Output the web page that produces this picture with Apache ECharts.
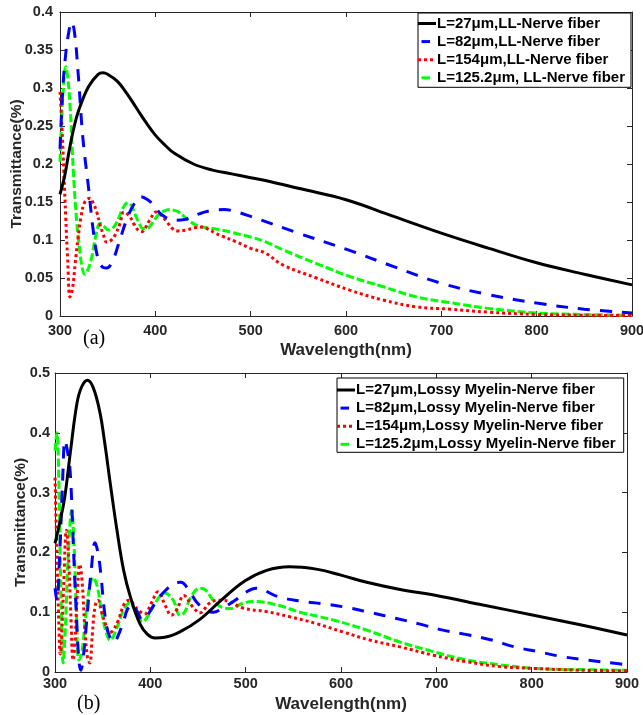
<!DOCTYPE html>
<html><head><meta charset="utf-8">
<script src="https://cdn.jsdelivr.net/npm/echarts/dist/echarts.min.js"></script>
<style>html,body{margin:0;padding:0;background:#fff}#c{width:643px;height:715px}</style>
</head><body><div id="c"></div><script>
// ---------- Panel (a) data ----------
const aBlackX = [300,305,310,315,320,330,340,345,350,360,370,380,390,400,410,420,440,460,480,500,520,550,600,650,700,750,800,850,900];
const aBlackY = [0.16,0.185,0.22,0.25,0.272,0.302,0.318,0.32,0.318,0.309,0.293,0.274,0.255,0.238,0.225,0.214,0.2,0.192,0.187,0.182,0.177,0.168,0.153,0.131,0.109,0.089,0.07,0.055,0.041];
const aBlueX = [300,303,306,309,312,315,319,324,330,335,340,345,349,355,361,370,378,385,392,398,407,420,431,445,460,472,485,500,550,600,650,700,750,800,850,900];
const aBlueY = [0.22,0.3,0.345,0.372,0.387,0.375,0.32,0.234,0.168,0.111,0.075,0.064,0.063,0.072,0.093,0.127,0.148,0.157,0.153,0.146,0.133,0.126,0.127,0.134,0.139,0.14,0.137,0.131,0.109,0.088,0.065,0.043,0.028,0.017,0.009,0.004];
const aRedX = [300,302,304,306,308,310.5,313,316,319,322,326,331.5,335,338.5,342,345.5,349,353,358,363,367,373,378,382,386,390,394,401,406,412,418,424,432,441,449,456,463,470,484,500,515,534,569,604,639,674,709,750,800,850,900];
const aRedY = [0.295,0.25,0.19,0.13,0.075,0.025,0.035,0.07,0.103,0.13,0.15,0.155,0.148,0.137,0.12,0.107,0.097,0.099,0.107,0.122,0.137,0.131,0.12,0.113,0.111,0.117,0.126,0.137,0.133,0.124,0.115,0.112,0.113,0.116,0.117,0.114,0.109,0.105,0.098,0.089,0.083,0.067,0.05,0.034,0.021,0.012,0.009,0.005,0.002,0.001,0.0005];
const aGreenX = [300,303,306,308,310.5,314,317.5,320,323,326,329,333,338.5,342,346,351,354,358,362,366,371,375,379,383,387,391,396,403,409,415,420,424,430,435,442,449,460,470,480,490,500,515,534,569,604,639,674,709,750,800,850,900];
const aGreenY = [0.203,0.29,0.328,0.315,0.278,0.19,0.124,0.095,0.065,0.055,0.06,0.076,0.111,0.122,0.118,0.113,0.114,0.12,0.13,0.142,0.149,0.145,0.133,0.122,0.115,0.115,0.121,0.133,0.138,0.14,0.139,0.137,0.131,0.126,0.12,0.117,0.115,0.113,0.11,0.107,0.104,0.098,0.087,0.069,0.052,0.0385,0.025,0.0175,0.01,0.004,0.002,0.001];
const aNames = ['L=27μm,LL-Nerve fiber','L=82μm,LL-Nerve fiber','L=154μm,LL-Nerve fiber','L=125.2μm, LL-Nerve fiber'];

// ---------- Panel (b) data ----------
const bBlackX = [300,305,310,316,323,328,334,340,347,352,358,365,372,379,389,397,405,415,431,452,473,499,522,546,574,600,627,662,700,749,802,851,900];
const bBlackY = [0.215,0.25,0.29,0.366,0.449,0.477,0.488,0.476,0.435,0.385,0.315,0.237,0.17,0.126,0.081,0.063,0.057,0.058,0.067,0.088,0.118,0.152,0.17,0.176,0.172,0.162,0.15,0.138,0.128,0.112,0.095,0.079,0.062];
const bBlueX = [300,302,305,308,310.5,313,316,319,322,325,327,330,334,338,342,345,348,352,356,362,366,372,376,381,386,392,397,405,415,425,432,440,448,458,466,475,489,500,511,534,559,581,606,632,657,683,707,734,758,782,807,831,858,887,900];
const bBlueY = [0.14,0.12,0.2,0.32,0.387,0.37,0.333,0.22,0.11,0.02,0.003,0.03,0.1,0.17,0.216,0.2,0.165,0.1,0.065,0.05,0.06,0.085,0.105,0.113,0.102,0.087,0.095,0.115,0.135,0.148,0.15,0.138,0.118,0.104,0.1,0.106,0.12,0.133,0.14,0.126,0.118,0.114,0.108,0.099,0.09,0.08,0.07,0.062,0.0535,0.042,0.034,0.026,0.02,0.0145,0.012];
const bRedX = [300,302,304,305.5,307,309,312,314,316.5,319,321,323,326,328.5,331,334,336.5,339,342,345,349,353,357,360,366,373,378,383,387,394,401,408,416,422,428,435,445,452,462,472,483,497,522,546,574,602,630,662,697,732,767,802,850,900];
const bRedY = [0.325,0.2,0.08,0.03,0.06,0.14,0.237,0.2,0.1,0.02,0.05,0.12,0.18,0.15,0.08,0.025,0.015,0.06,0.11,0.12,0.1,0.08,0.066,0.068,0.085,0.115,0.12,0.112,0.104,0.097,0.115,0.134,0.11,0.095,0.105,0.128,0.108,0.099,0.115,0.12,0.118,0.107,0.101,0.0925,0.081,0.067,0.0535,0.042,0.028,0.017,0.009,0.006,0.003,0.002];
const bGreenX = [300,302,304,306,308.5,311,314,317.5,320,322.5,325,328,332,336,340,344,349,353,358,364,371,378,385,392,398,405,415,424,431,436,442,452,458,466,475,484,497,510,533,557,592,627,662,697,732,767,802,850,900];
const bGreenY = [0.37,0.4,0.32,0.15,0.015,0.08,0.2,0.27,0.21,0.1,0.02,0.03,0.09,0.14,0.158,0.145,0.1,0.07,0.053,0.07,0.1,0.115,0.1,0.084,0.095,0.115,0.132,0.12,0.095,0.1,0.124,0.14,0.137,0.12,0.108,0.106,0.115,0.118,0.112,0.1,0.087,0.07,0.05,0.034,0.02,0.012,0.006,0.004,0.003];
const bNames = ['L=27μm,Lossy Myelin-Nerve fiber','L=82μm,Lossy Myelin-Nerve fiber','L=154μm,Lossy Myelin-Nerve fiber','L=125.2μm,Lossy Myelin-Nerve fiber'];

const xTicks = {min:300, max:900, interval:100};
const yTicksA = {min:0, max:0.4, interval:0.05};
const yTicksB = {min:0, max:0.5, interval:0.1};

// ---------- styling ----------
const FONT = 'Liberation Sans, Arial, sans-serif';
const AX = '#262626';
const zip = (xs, ys) => xs.map((x, i) => [x, ys[i]]);
const BOX = 'M0,0M18,14';
const styles = [
  {color:'#000000', type:'solid',  icon:'path://' + BOX + 'M0,5.5h18v3h-18z'},
  {color:'#0000ff', type:[12,10],  icon:'path://' + BOX + 'M3.5,5.5h8.5v3h-8.5z'},
  {color:'#ff0000', type:[3,3],    icon:'path://' + BOX + 'M0,5.5h3v3h-3zM6,5.5h3v3h-3zM12,5.5h3v3h-3z'},
  {color:'#00ff00', type:[8,3],    icon:'path://' + BOX + 'M3.5,5.5h8.5v3h-8.5z'}
];
function mkSeries(name, xs, ys, k, gi) {
  return {
    type:'line', name, xAxisIndex: gi*2, yAxisIndex: gi*2,
    data: zip(xs, ys), symbol:'none', smooth:0.4,
    lineStyle:{color:styles[k].color, type:styles[k].type, width:3, cap:'butt'},
    itemStyle:{color:styles[k].color}, z: 10 - k
  };
}
function xAxes(gi, margin, nameGap) {
  const base = {gridIndex:gi, type:'value', ...xTicks, splitLine:{show:false},
    axisLine:{show:true, onZero:false, lineStyle:{color:AX, width:1}},
    axisTick:{show:true, inside:true, length:5, lineStyle:{color:AX}}};
  return [
    {...base, position:'bottom',
     axisLabel:{color:AX, fontFamily:FONT, fontWeight:'bold', fontSize:14.5, margin:margin},
     name:'Wavelength(nm)', nameLocation:'middle', nameGap:nameGap, nameMoveOverlap:false,
     nameTextStyle:{color:AX, fontFamily:FONT, fontWeight:'bold', fontSize:17}},
    {...base, position:'top', axisLabel:{show:false}}
  ];
}
function yAxes(gi, ticks, margin, nameGap) {
  const base = {gridIndex:gi, type:'value', ...ticks, splitLine:{show:false},
    axisLine:{show:true, onZero:false, lineStyle:{color:AX, width:1}},
    axisTick:{show:true, inside:true, length:5, lineStyle:{color:AX}}};
  return [
    {...base, position:'left',
     axisLabel:{color:AX, fontFamily:FONT, fontWeight:'bold', fontSize:14.5, margin:margin},
     name:'Transmittance(%)', nameLocation:'middle', nameGap:nameGap, nameMoveOverlap:false,
     nameTextStyle:{color:AX, fontFamily:FONT, fontWeight:'bold', fontSize:15.5}},
    {...base, position:'right', axisLabel:{show:false}}
  ];
}
function legend(names, left, top, padding, gap) {
  return {
    orient:'vertical', left:left, top:top, selectedMode:false,
    data: names.map((n, k) => ({name:n, icon:styles[k].icon})),
    backgroundColor:'#ffffff', borderColor:'#000000', borderWidth:1, borderRadius:0,
    padding:padding, itemGap:gap, itemWidth:18, itemHeight:14,
    itemStyle:{borderWidth:0}, lineStyle:{width:0},
    textStyle:{color:'#000', fontFamily:FONT, fontWeight:'bold', fontSize:15, padding:[0,0,0,-4]}
  };
}

const seriesA = [[aBlackX,aBlackY],[aBlueX,aBlueY],[aRedX,aRedY],[aGreenX,aGreenY]]
  .map((d,k) => mkSeries(aNames[k], d[0], d[1], k, 0));
const seriesB = [[bBlackX,bBlackY],[bBlueX,bBlueY],[bRedX,bRedY],[bGreenX,bGreenY]]
  .map((d,k) => mkSeries(bNames[k], d[0], d[1], k, 1));

const chart = echarts.init(document.getElementById('c'), null, {renderer:'canvas'});
chart.setOption({
  animation:false,
  backgroundColor:'#ffffff',
  grid:[
    {left:60, top:12, width:572, height:304, outerBoundsMode:'none', containLabel:false},
    {left:55, top:373, width:572, height:299, outerBoundsMode:'none', containLabel:false}
  ],
  xAxis:[...xAxes(0, 7, 26), ...xAxes(1, 4, 24)],
  yAxis:[...yAxes(0, yTicksA, 7, 35), ...yAxes(1, yTicksB, 5, 26)],
  legend:[legend(aNames, 418, 13, [3,6,2,0], 3.1), legend(bNames, 337, 378, [4.5,8,0.5,0], 3.1)],
  series:[...seriesA, ...seriesB],
  graphic:[
    {type:'text', left:83, top:329, style:{text:'(a)', fontFamily:'Liberation Serif, Times New Roman, serif', fontSize:20, fill:'#000'}},
    {type:'text', left:77, top:694, style:{text:'(b)', fontFamily:'Liberation Serif, Times New Roman, serif', fontSize:20, fill:'#000'}}
  ]
});
</script></body></html>
